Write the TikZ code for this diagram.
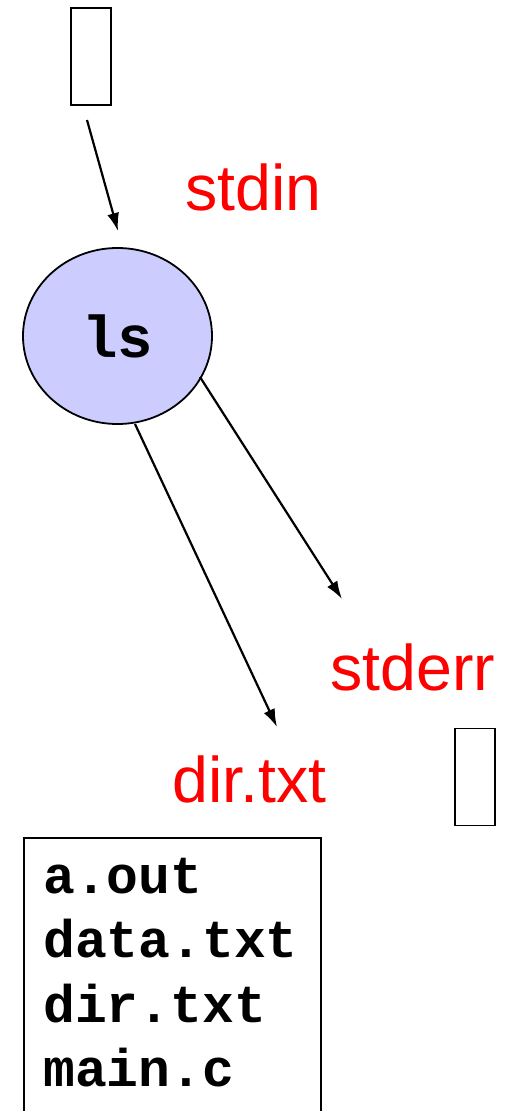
\documentclass[tikz,border=0pt]{standalone}
\usepackage{fontspec}
\setmainfont{Liberation Sans}
\newfontfamily\codefont{Liberation Mono}
\usetikzlibrary{shapes.geometric,arrows.meta}

\begin{document}
\begin{tikzpicture}[x=1pt,y=-1pt,
                    stream/.style={draw,line width=1.8pt,minimum width=40pt,minimum height=97pt,inner sep=0pt},
                    proc/.style={ellipse,draw,line width=1.8pt,fill={rgb,255:red,204;green,204;blue,255},
                                 minimum width=189pt,minimum height=176pt,font=\codefont\bfseries\fontsize{59}{60}\selectfont},
                    fdname/.style={anchor=base west,text=red,inner sep=0pt,font=\fontsize{64.5}{70}\selectfont},
                    fline/.style={anchor=base west,inner sep=0pt,font=\codefont\bfseries\fontsize{53}{60}\selectfont},
                    pipe/.style={-{Latex[length=18pt,width=12pt]},line width=2.2pt}]
      \useasboundingbox (0,0) rectangle (510,1111);

      \node[stream] (kbd) at (91,56.5) {};
      \node[stream] (term) at (475,777) {};
      \node[proc] (ls) at (117.5,336) {ls};

      \node[fdname] (stdin) at (185,210) {stdin};
      \node[fdname] (stderr) at (330,690) {stderr};
      \node[fdname] (dirtxt) at (172,802) {dir.txt};

      \node[draw,line width=1.8pt,anchor=north west,minimum width=297pt,minimum height=320pt] (listing) at (23,837) {};
      \foreach \f [count=\i] in {a.out,data.txt,dir.txt,main.c}
        \node[fline] (line\i) at (43,893+64.5*\i-64.5) {\f};

      \coordinate (in0) at (87,120);
      \coordinate (in1) at (118,231);
      \coordinate (err0) at (200,377);
      \coordinate (err1) at (342,599);
      \coordinate (out0) at (135,424);
      \coordinate (out1) at (277,727);

      \draw[pipe] (in0) -- (in1);
      \draw[pipe] (err0) -- (err1);
      \draw[pipe] (out0) -- (out1);
\end{tikzpicture}
\end{document}
